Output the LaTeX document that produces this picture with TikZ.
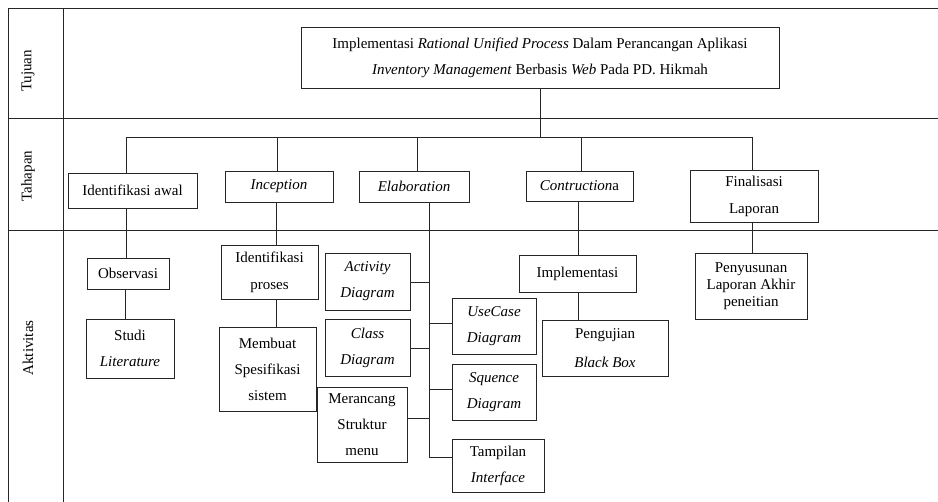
\documentclass[tikz,border=0pt]{standalone}
\usepackage{fontspec}
\setmainfont{Liberation Serif}
\newcommand\myfs{\fontsize{15}{26}\selectfont}
\begin{document}
\begin{tikzpicture}[x=1pt,y=-1pt,
  ln/.style={draw=black!85, line width=0.9pt},
  box/.style={draw=black!85, line width=0.9pt, inner sep=0pt, align=center, font=\myfs, fill=white},
  lbl/.style={rotate=90, font=\myfs, inner sep=0pt}]
\useasboundingbox (0,0) rectangle (938,502);
% grid
\draw[ln] (938,8) -- (8,8) -- (8,502);
\draw[ln] (63,8) -- (63,502);
\draw[ln] (8,118) -- (938,118);
\draw[ln] (8,230) -- (938,230);
\node[lbl] (ltuj) at (28,71) {Tujuan};
\node[lbl] (ltah) at (28,176) {Tahapan};
\node[lbl] (lakt) at (28,348) {Aktivitas};
% nodes
\node[box, minimum width=478, minimum height=61] (title) at (540,57.5)
  {Implementasi \textit{Rational Unified Process} Dalam Perancangan Aplikasi\\
   \textit{Inventory Management} Berbasis \textit{Web} Pada PD. Hikmah};
\node[box, minimum width=129, minimum height=35] (idaw) at (132.5,190.5) {Identifikasi awal};
\node[box, minimum width=108, minimum height=31] (incep) at (279,186.5) {\textit{Inception}};
\node[box, minimum width=110, minimum height=31] (elab) at (414,186.5) {\textit{Elaboration}};
\node[box, minimum width=107, minimum height=30] (contr) at (579.5,186) {\textit{Contruction}a};
\node[box, minimum width=128, minimum height=52, font=\fontsize{15}{27}\selectfont] (final) at (754,196) {Finalisasi\\Laporan};
\node[box, minimum width=82, minimum height=31] (obs) at (128,273.5) {Observasi};
\node[box, minimum width=88, minimum height=59] (studi) at (130,348.5) {Studi\\\textit{Literature}};
\node[box, minimum width=97, minimum height=54, font=\fontsize{15}{27}\selectfont] (idpro) at (269.5,272) {Identifikasi\\proses};
\node[box, minimum width=97, minimum height=84] (membuat) at (267.5,369) {Membuat\\Spesifikasi\\sistem};
\node[box, minimum width=85, minimum height=57] (act) at (367.5,281.5) {\textit{Activity}\\\textit{Diagram}};
\node[box, minimum width=85, minimum height=57] (cls) at (367.5,347.5) {\textit{Class}\\\textit{Diagram}};
\node[box, minimum width=90, minimum height=75] (meran) at (362,424.5) {Merancang\\Struktur\\menu};
\node[box, minimum width=84, minimum height=56] (usec) at (494,326) {\textit{UseCase}\\\textit{Diagram}};
\node[box, minimum width=84, minimum height=56] (sque) at (494,392) {\textit{Squence}\\\textit{Diagram}};
\node[box, minimum width=92, minimum height=53] (tamp) at (498,465.5) {Tampilan\\\textit{Interface}};
\node[box, minimum width=117, minimum height=37] (impl) at (577.5,273.5) {Implementasi};
\node[box, minimum width=126, minimum height=56, font=\fontsize{15}{29}\selectfont] (peng) at (605,348) {Pengujian\\\textit{Black Box}};
\node[box, minimum width=112, minimum height=66, font=\fontsize{15}{17}\selectfont] (peny) at (751,286) {Penyusunan\\Laporan Akhir\\peneitian};
% bus
\coordinate (bL) at (126,137);
\coordinate (b2) at (277,137);
\coordinate (b3) at (417,137);
\coordinate (b4) at (581,137);
\coordinate (bR) at (752,137);
\draw[ln] (bL) -- (bR);
\draw[ln] (title.south) -- (title.south |- bL);
\draw[ln] (bL) -- (bL |- idaw.north);
\draw[ln] (b2) -- (b2 |- incep.north);
\draw[ln] (b3) -- (b3 |- elab.north);
\draw[ln] (b4) -- (b4 |- contr.north);
\draw[ln] (bR) -- (bR |- final.north);
% aktivitas connectors
\coordinate (a1) at (126,0);
\coordinate (a1b) at (125,0);
\coordinate (a2) at (276,0);
\coordinate (a4) at (578,0);
\draw[ln] (a1 |- idaw.south) -- (a1 |- obs.north);
\draw[ln] (a1b |- obs.south) -- (a1b |- studi.north);
\draw[ln] (a2 |- incep.south) -- (a2 |- idpro.north);
\draw[ln] (a2 |- idpro.south) -- (a2 |- membuat.north);
\draw[ln] (a4 |- contr.south) -- (a4 |- impl.north);
\draw[ln] (a4 |- impl.south) -- (a4 |- peng.north);
\draw[ln] (bR |- final.south) -- (bR |- peny.north);
% elaboration trunk
\coordinate (tr) at (429,0);
\coordinate (yA) at (0,282);
\coordinate (yC) at (0,348);
\coordinate (yM) at (0,418);
\coordinate (yU) at (0,323);
\coordinate (yS) at (0,389);
\coordinate (yT) at (0,457);
\draw[ln] (tr |- elab.south) |- (tamp.west |- yT);
\draw[ln] (act.east |- yA) -- (tr |- yA);
\draw[ln] (cls.east |- yC) -- (tr |- yC);
\draw[ln] (meran.east |- yM) -- (tr |- yM);
\draw[ln] (tr |- yU) -- (usec.west |- yU);
\draw[ln] (tr |- yS) -- (sque.west |- yS);
\end{tikzpicture}
\end{document}
